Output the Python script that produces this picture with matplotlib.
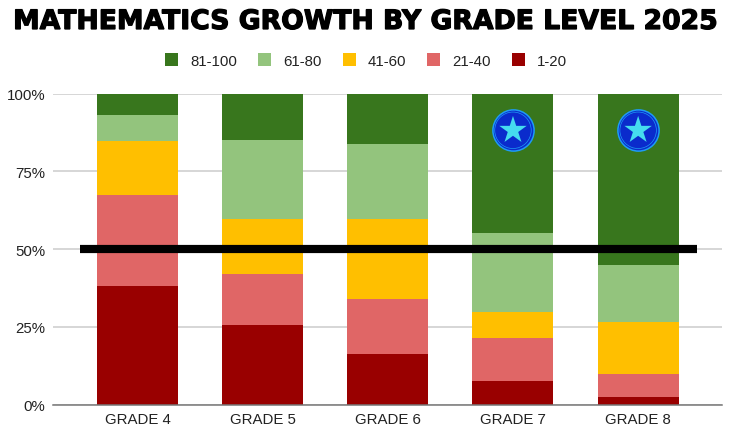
import matplotlib
matplotlib.use('Agg')
import matplotlib.pyplot as plt
import matplotlib.patheffects as pe
import numpy as np

grades = ['GRADE 4', 'GRADE 5', 'GRADE 6', 'GRADE 7', 'GRADE 8']
bands = ['1-20', '21-40', '41-60', '61-80', '81-100']
colors = ['#990000', '#e06666', '#ffbf00', '#93c47d', '#38761d']

band_1_20 = [38.0, 25.7, 16.3, 7.7, 2.3]
band_21_40 = [29.5, 16.3, 17.7, 13.6, 7.7]
band_41_60 = [17.2, 17.7, 25.7, 8.5, 16.5]
band_61_80 = [8.5, 25.3, 24.1, 25.4, 18.5]
band_81_100 = [6.8, 15.0, 16.2, 44.8, 55.0]

yticks = [0, 25, 50, 75, 100]
target = 50
star_grades = [3, 4]
star_y = 88.2

plt.rcParams['font.family'] = ['Liberation Sans', 'DejaVu Sans']

fig = plt.figure(figsize=(7.29, 4.27), dpi=100)
ax = fig.add_axes([53 / 729, 1 - 405.6 / 427, 669 / 729, 311 / 427])

x = np.arange(len(grades))
bottom = np.zeros(len(grades))
rows = [band_1_20, band_21_40, band_41_60, band_61_80, band_81_100]
handles = []
for vals, col, name in zip(rows, colors, bands):
    b = ax.bar(x, vals, bottom=bottom, width=0.647, color=col, label=name, zorder=2)
    handles.append(b)
    bottom += np.array(vals)

ax.set_xlim(-0.675, 4.67)
ax.set_ylim(0, 100)
ax.set_xticks(x)
ax.set_xticklabels(grades)
ax.set_yticks(yticks)
ax.set_yticklabels([f'{t}%' for t in yticks])
ax.tick_params(axis='both', length=0, labelsize=10.8, labelcolor='#222222')
ax.tick_params(axis='x', pad=5.5)
ax.tick_params(axis='y', pad=5.5)
ax.grid(axis='y', color='#cccccc', linewidth=1.1, zorder=0)
ax.set_axisbelow(True)
for s in ['top', 'left', 'right']:
    ax.spines[s].set_visible(False)
ax.spines['bottom'].set_color('#777777')
ax.spines['bottom'].set_linewidth(1.1)

# thick 50% line over the bars
ax.plot([-0.458, 4.47], [target, target], color='black', linewidth=5.9, solid_capstyle='butt', zorder=4)

# star badges
sx = star_grades
sy = [star_y] * len(star_grades)
ax.scatter(sx, sy, s=880, color='#0a2bcc', edgecolors='#1e9cf5', linewidths=1.1, zorder=5)
ax.scatter(sx, sy, s=690, facecolors='none', edgecolors='#1e9cf5', linewidths=0.5, zorder=5)
ax.scatter(sx, sy, s=430, marker='*', color='#45dcef', edgecolors='none', zorder=6)

fig.text(365.5 / 729, 1 - 30 / 427, 'MATHEMATICS GROWTH BY GRADE LEVEL 2025', ha='center', va='baseline',
         fontsize=19.2, fontweight='bold', family='DejaVu Sans', color='black',
         path_effects=[pe.withStroke(linewidth=0.9, foreground='black', joinstyle='miter')])

leg = fig.legend(handles[::-1], bands[::-1], ncol=5, loc='center', bbox_to_anchor=(366 / 729, 1 - 61.5 / 427),
                 frameon=False, fontsize=10.8, handlelength=0.87, handleheight=0.87,
                 handletextpad=0.8, columnspacing=1.4, labelcolor='#222222')

plt.savefig('out.png', dpi=100)
